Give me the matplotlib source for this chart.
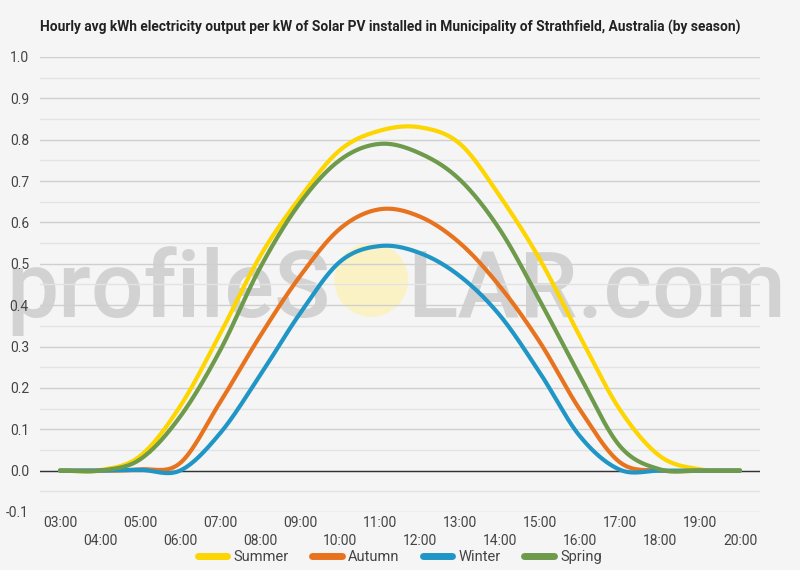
import numpy as np
import matplotlib.pyplot as plt
from matplotlib.patches import Ellipse

plt.rcParams['font.family'] = ['Roboto', 'DejaVu Sans']

# Hourly values
hours = list(range(3, 21))
hour_labels = [f"{h:02d}:00" for h in hours]

summer = [0.0, 0.001, 0.035, 0.155, 0.33, 0.518, 0.66, 0.775, 0.822, 0.83, 0.79, 0.663, 0.51, 0.324, 0.147, 0.035, 0.003, 0.0]
autumn = [0.0, 0.0, 0.003, 0.018, 0.165, 0.325, 0.47, 0.585, 0.632, 0.614, 0.55, 0.445, 0.31, 0.147, 0.02, 0.0, 0.0, 0.0]
winter = [0.0, 0.0, 0.002, 0.0, 0.09, 0.23, 0.38, 0.505, 0.543, 0.526, 0.47, 0.375, 0.236, 0.083, 0.002, 0.0, 0.0, 0.0]
spring = [0.0, 0.0, 0.027, 0.13, 0.29, 0.49, 0.647, 0.751, 0.79, 0.767, 0.703, 0.582, 0.41, 0.228, 0.059, 0.003, 0.0, 0.0]

series = [("Summer", summer, '#fdd500'), ("Autumn", autumn, '#e8731f'),
          ("Winter", winter, '#1f96c6'), ("Spring", spring, '#6d9a4b')]


def smooth(x, y, n=30):
    # catmull-rom style curve through the hourly points
    x = np.asarray(x, float)
    y = np.asarray(y, float)
    m = np.zeros_like(y)
    m[1:-1] = (y[2:] - y[:-2]) / (x[2:] - x[:-2])
    m[0] = y[1] - y[0]
    m[-1] = y[-1] - y[-2]
    xs, ys = [], []
    for i in range(len(x) - 1):
        t = np.linspace(0, 1, n, endpoint=False)
        h = x[i + 1] - x[i]
        h00 = 2 * t**3 - 3 * t**2 + 1
        h10 = t**3 - 2 * t**2 + t
        h01 = -2 * t**3 + 3 * t**2
        h11 = t**3 - t**2
        xs.append(x[i] + t * h)
        ys.append(h00 * y[i] + h10 * h * m[i] + h01 * y[i + 1] + h11 * h * m[i + 1])
    xs.append([x[-1]])
    ys.append([y[-1]])
    return np.concatenate(xs), np.concatenate(ys)


fig = plt.figure(figsize=(8, 5.7), dpi=100, facecolor='#f5f5f5')
ax = fig.add_axes([0.05, 0.1018, 0.9, 0.7982])
ax.set_facecolor('#f5f5f5')

# watermark, drawn under the gridlines
ax.text(0.413, 0.443, "profileS", fontsize=67, fontweight='medium', color='#c4c4c4', alpha=0.7,
        ha='right', va='baseline', zorder=0.5, transform=fig.transFigure)
ax.text(0.509, 0.443, "LAR.com", fontsize=67, fontweight='medium', color='#c4c4c4', alpha=0.7,
        ha='left', va='baseline', zorder=0.5, transform=fig.transFigure)
sun = Ellipse((0.464, 0.509), 74 / 800, 74 / 570, transform=fig.transFigure,
              facecolor='#fcf2bd', edgecolor='none', alpha=0.85, zorder=0.5, clip_on=False)
ax.add_artist(sun)

for v in np.arange(-0.1, 1.001, 0.05):
    major = abs(round(v * 10) - v * 10) < 1e-6
    ax.axhline(v, color='#cfcfcf' if major else '#e3e3e3', lw=1.0, zorder=1)
ax.axhline(0, color='#333333', lw=1.0, zorder=2)

for name, vals, col in series:
    xs, ys = smooth(hours, vals)
    ax.plot(xs, ys, color=col, lw=3.0, label=name, zorder=3, solid_capstyle='round')

ax.set_xlim(2.5, 20.5)
ax.set_ylim(-0.1, 1.0)
ax.set_yticks(np.arange(-0.1, 1.01, 0.1))
ax.set_yticklabels([f"{v:.1f}" for v in np.arange(-0.1, 1.01, 0.1)])
ax.set_xticks(hours)
ax.set_xticklabels([lab if i % 2 == 0 else "\n" + lab for i, lab in enumerate(hour_labels)],
                   linespacing=1.35)
ax.tick_params(length=0, labelsize=10, labelcolor='#444444')
ax.tick_params(axis='y', pad=8)
ax.tick_params(axis='x', pad=3)
for s in ax.spines.values():
    s.set_visible(False)

fig.text(0.05, 0.951, "Hourly avg kWh electricity output per kW of Solar PV installed in Municipality of Strathfield, Australia (by season)",
         fontsize=9.9, fontweight='bold', color='#222222', ha='left', va='center')

fig.legend(loc='center', bbox_to_anchor=(0.5, 0.022), ncol=4, frameon=False,
           fontsize=10.5, handlelength=2.0, handletextpad=0.45, columnspacing=1.6,
           labelcolor='#444444')
for line in fig.legends[0].get_lines():
    line.set_linewidth(5)

fig.savefig('out.png', dpi=100, facecolor='#f5f5f5')
